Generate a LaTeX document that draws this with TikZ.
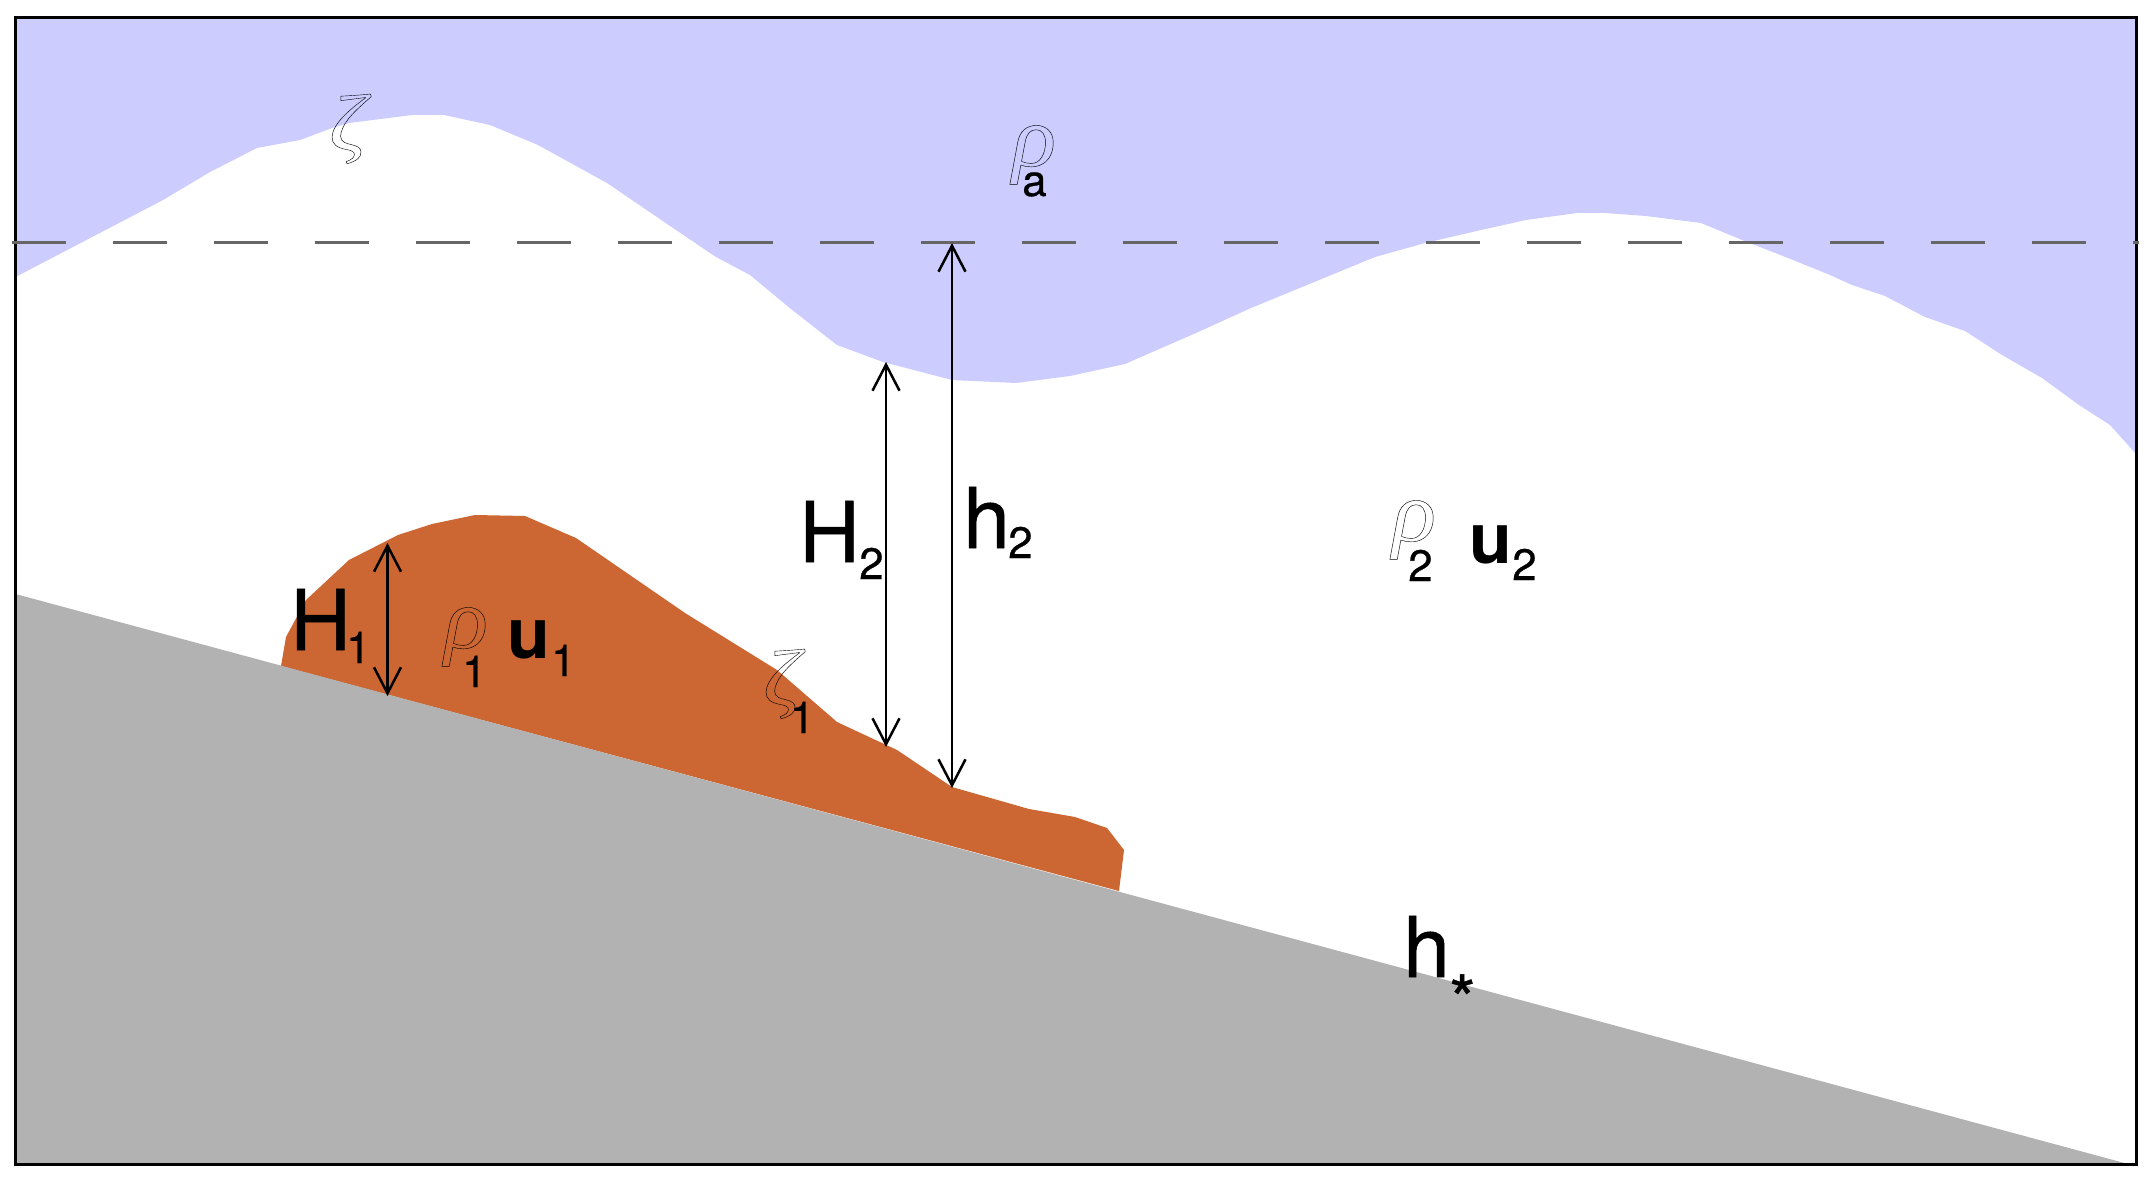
\documentclass[tikz,border=0pt]{standalone}
\usepackage{fontspec}
\usetikzlibrary{arrows.meta}
\setmainfont{TeX Gyre Heros}[RawFeature={embolden=0.6}]
\newfontfamily\grk{Liberation Serif}[ItalicFont=* Italic]
\newfontfamily\boldsans{TeX Gyre Heros Bold}
\definecolor{airblue}{HTML}{CCCCFF}
\definecolor{mudbrown}{HTML}{CC6633}
\definecolor{slopegray}{HTML}{B2B2B2}
\definecolor{levelgray}{HTML}{666666}
\newcommand{\hollow}[1]{\scalebox{1.14}[1]{\special{pdf:code q 1 Tr 0.4 w}#1\special{pdf:code 0 Tr Q}}}
\newcommand{\hollowrho}[1]{\scalebox{1.14}[1.08]{\special{pdf:code q 1 Tr 0.4 w}#1\special{pdf:code 0 Tr Q}}}
\tikzset{
 dim/.style={line width=2.5pt,{Straight Barb[length=26pt,width=27pt,line width=2.5pt]}-{Straight Barb[length=26pt,width=27pt,line width=2.5pt]}},
 greek/.style={anchor=base west,inner sep=0pt,font=\grk\itshape\fontsize{80}{80}\selectfont},
 big/.style={anchor=base west,inner sep=0pt,font=\fontsize{84}{84}\selectfont},
 bolds/.style={anchor=base west,inner sep=0pt,font=\boldsans\fontsize{70}{70}\selectfont},
 subs/.style={anchor=base west,inner sep=0pt,font=\fontsize{44}{44}\selectfont},
}
\begin{document}
\begin{tikzpicture}[x=1pt,y=-1pt]
\useasboundingbox (0,0) rectangle (2152,1185);
\fill[white] (0,0) rectangle (2152,1185);
% air
\fill[airblue] (15.5,17.5) -- (2136,17.5) -- (2136,454)
 -- (2110,425) -- (2079,405) -- (2042,378) -- (2002,355) -- (1965,331) -- (1925,317) -- (1885,296) -- (1852,285) -- (1830,275) -- (1793,260) -- (1742,240) -- (1701,223) -- (1646,216) -- (1605,213) -- (1577,213) -- (1526,220) -- (1481,230) -- (1425,243) -- (1375,257) -- (1324,278) -- (1251,308) -- (1196,333) -- (1150,353) -- (1125,364) -- (1070,376) -- (1016,383) -- (952,380) -- (883,362) -- (837,345) -- (791,309) -- (750,275) -- (716,257) -- (676,230) -- (607,183) -- (538,145) -- (490,125) -- (444,115) -- (412,115) -- (349,123) -- (332,128) -- (300,140) -- (257,148) -- (210,172) -- (163,200) -- (15.5,277) -- cycle;
% lower layer
\fill[mudbrown] (281,666) -- (286,637) -- (306,600) -- (349,560) -- (398,535) -- (432,524) -- (475,515) -- (525,516) -- (576,538) -- (685,613) -- (777,670) -- (837,722) -- (897,750) -- (952,787) -- (1029,809) -- (1075,817) -- (1107,828) -- (1124,850) -- (1119,891) -- cycle;
% slope
\fill[slopegray] (15.5,594) -- (2130,1164.5) -- (15.5,1164.5) -- cycle;
% frame
\draw[black,line width=3pt] (15.5,17.5) rectangle (2136,1164.5);
% reference level
\coordinate (lvlL) at (12,242.5);
\coordinate (lvlR) at (2139,242.5);
\draw[levelgray,line width=2.7pt,dash pattern=on 53.5pt off 47.5pt] (lvlL) -- (lvlR);
% dimensions
\coordinate (h1t) at (387.5,543);
\coordinate (h1b) at (387.5,696);
\coordinate (h2t) at (886,362);
\coordinate (h2b) at (886,747);
\coordinate (h3t) at (952,243);
\coordinate (h3b) at (952,788);
\draw[dim] (h1t) -- (h1b);
\draw[dim] (h2t) -- (h2b);
\draw[dim] (h3t) -- (h3b);
% labels
\node[greek] (za) at (329,150) {\hollow{ζ}};
\node[greek] (rhoa) at (1012,166) {\hollowrho{ρ}};
\node[subs] (suba) at (1022,196) {a};
\node[big] (H1) at (290,650) {H};
\node[subs] (subH1) at (346,663) {1};
\node[greek] (rho1) at (444,648) {\hollowrho{ρ}};
\node[subs] (subr1) at (462,687) {1};
\node[bolds] (u1) at (507,658) {u};
\node[subs] (subu1) at (551,676) {1};
\node[greek] (z1) at (763,705) {\hollow{ζ}};
\node[subs] (subz1) at (790,733) {1};
\node[big] (H2) at (799,562) {H};
\node[subs] (subH2) at (859,579) {2};
\node[big] (h2) at (963,548) {h};
\node[subs] (subh2) at (1008,558) {2};
\node[greek] (rho2) at (1392,541) {\hollowrho{ρ}};
\node[subs] (subr2) at (1408,581) {2};
\node[bolds] (u2) at (1469,563) {u};
\node[subs] (subu2) at (1512,580) {2};
\node[big] (hs) at (1403,977) {h};
\node[anchor=base west,inner sep=0pt,font=\fontsize{68}{68}\selectfont] (star) at (1449,1024) {*};
\end{tikzpicture}
\end{document}
